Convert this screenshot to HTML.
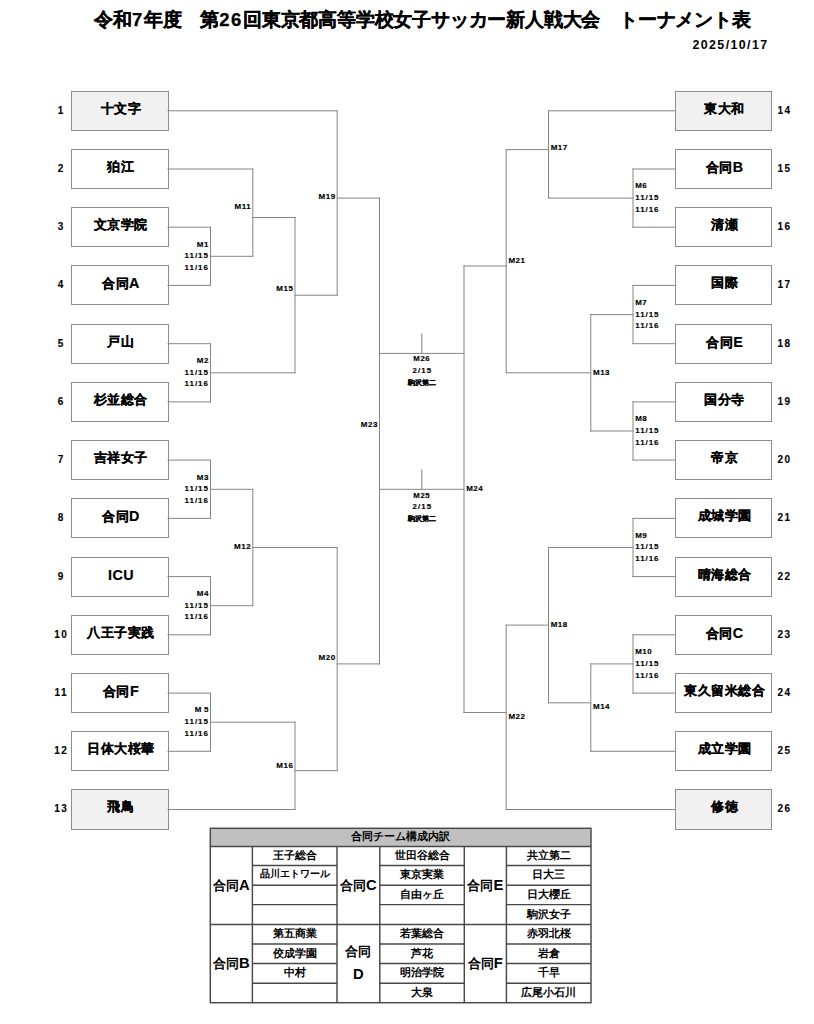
<!DOCTYPE html>
<html lang="ja"><head><meta charset="utf-8"><title>トーナメント表</title>
<style>
html,body{margin:0;padding:0;background:#fff;}
body{width:814px;height:1024px;position:relative;overflow:hidden;font-family:"Liberation Sans",sans-serif;color:#000;}
.a{position:absolute;white-space:nowrap;}
.t{position:absolute;left:1px;top:6.5px;width:843px;text-align:center;font-size:18.55px;font-weight:bold;letter-spacing:-0.2px;-webkit-text-stroke:0.25px #000;}
.tn{letter-spacing:1.6px;}
.d{position:absolute;right:45.5px;top:38px;font-size:12.4px;font-weight:bold;letter-spacing:1.4px;}
.bx{position:absolute;box-sizing:border-box;border:1.4px solid #8d8d8d;background:#fff;font-size:13px;font-weight:bold;text-align:center;-webkit-text-stroke:0.2px #000;letter-spacing:0.5px;padding-left:2.5px;}
.bx.s{background:#f1f1f1;}
.la{font-size:14.3px;}
.n{position:absolute;font-size:10px;font-weight:bold;letter-spacing:1.5px;-webkit-text-stroke:0.1px #000;}
.m{position:absolute;font-size:8px;font-weight:bold;line-height:11.7px;letter-spacing:0.5px;-webkit-text-stroke:0.15px #000;}
.m.r{text-align:right;}
.dt{letter-spacing:0.95px;}

.c{position:absolute;font-size:7.8px;font-weight:bold;line-height:11.8px;text-align:center;letter-spacing:0.6px;-webkit-text-stroke:0.15px #000;}
table.g{position:absolute;border-collapse:collapse;border-spacing:0;table-layout:fixed;}
table.g td{border:0;padding:0 0 2px 0;font-size:11.4px;font-weight:bold;text-align:center;line-height:14px;white-space:nowrap;overflow:hidden;}
table.g tr.h td{font-size:11px;}
table.g td.gl{font-size:13.2px;line-height:22px;padding:0;}
table.g td.sm{font-size:10.2px;letter-spacing:0;}
.lt{font-size:14.8px;}
</style></head><body>
<div class="t">令和<span class="tn">7</span>年度　第<span class="tn">26</span>回東京都高等学校女子サッカー新人戦大会　トーナメント表</div>
<div class="d">2025/10/17</div>
<div class="bx s" style="left:70.8px;top:90.6px;width:97.9px;height:40.2px;line-height:34.4px">十文字</div>
<div class="n" style="left:40px;width:41px;padding-left:1.5px;box-sizing:border-box;text-align:center;top:104.7px;line-height:12px">1</div>
<div class="bx" style="left:70.8px;top:148.9px;width:97.9px;height:40.2px;line-height:34.4px">狛江</div>
<div class="n" style="left:40px;width:41px;padding-left:1.5px;box-sizing:border-box;text-align:center;top:162.9px;line-height:12px">2</div>
<div class="bx" style="left:70.8px;top:207.1px;width:97.9px;height:40.2px;line-height:34.4px">文京学院</div>
<div class="n" style="left:40px;width:41px;padding-left:1.5px;box-sizing:border-box;text-align:center;top:221.1px;line-height:12px">3</div>
<div class="bx" style="left:70.8px;top:265.3px;width:97.9px;height:40.2px;line-height:34.4px">合同<span class="la">A</span></div>
<div class="n" style="left:40px;width:41px;padding-left:1.5px;box-sizing:border-box;text-align:center;top:279.3px;line-height:12px">4</div>
<div class="bx" style="left:70.8px;top:323.6px;width:97.9px;height:40.2px;line-height:34.4px">戸山</div>
<div class="n" style="left:40px;width:41px;padding-left:1.5px;box-sizing:border-box;text-align:center;top:337.6px;line-height:12px">5</div>
<div class="bx" style="left:70.8px;top:381.8px;width:97.9px;height:40.2px;line-height:34.4px">杉並総合</div>
<div class="n" style="left:40px;width:41px;padding-left:1.5px;box-sizing:border-box;text-align:center;top:395.8px;line-height:12px">6</div>
<div class="bx" style="left:70.8px;top:440.0px;width:97.9px;height:40.2px;line-height:34.4px">吉祥女子</div>
<div class="n" style="left:40px;width:41px;padding-left:1.5px;box-sizing:border-box;text-align:center;top:454.0px;line-height:12px">7</div>
<div class="bx" style="left:70.8px;top:498.3px;width:97.9px;height:40.2px;line-height:34.4px">合同<span class="la">D</span></div>
<div class="n" style="left:40px;width:41px;padding-left:1.5px;box-sizing:border-box;text-align:center;top:512.3px;line-height:12px">8</div>
<div class="bx" style="left:70.8px;top:556.5px;width:97.9px;height:40.2px;line-height:34.4px"><span class="la">ICU</span></div>
<div class="n" style="left:40px;width:41px;padding-left:1.5px;box-sizing:border-box;text-align:center;top:570.5px;line-height:12px">9</div>
<div class="bx" style="left:70.8px;top:614.7px;width:97.9px;height:40.2px;line-height:34.4px">八王子実践</div>
<div class="n" style="left:40px;width:41px;padding-left:1.5px;box-sizing:border-box;text-align:center;top:628.7px;line-height:12px">10</div>
<div class="bx" style="left:70.8px;top:672.9px;width:97.9px;height:40.2px;line-height:34.4px">合同<span class="la">F</span></div>
<div class="n" style="left:40px;width:41px;padding-left:1.5px;box-sizing:border-box;text-align:center;top:687.0px;line-height:12px">11</div>
<div class="bx" style="left:70.8px;top:731.2px;width:97.9px;height:40.2px;line-height:34.4px">日体大桜華</div>
<div class="n" style="left:40px;width:41px;padding-left:1.5px;box-sizing:border-box;text-align:center;top:745.2px;line-height:12px">12</div>
<div class="bx s" style="left:70.8px;top:789.4px;width:97.9px;height:40.2px;line-height:34.4px">飛鳥</div>
<div class="n" style="left:40px;width:41px;padding-left:1.5px;box-sizing:border-box;text-align:center;top:803.4px;line-height:12px">13</div>
<div class="bx s" style="left:674.8px;top:90.6px;width:97.4px;height:40.2px;line-height:34.4px">東大和</div>
<div class="n" style="left:777.5px;top:104.7px;line-height:12px">14</div>
<div class="bx" style="left:674.8px;top:148.9px;width:97.4px;height:40.2px;line-height:34.4px">合同<span class="la">B</span></div>
<div class="n" style="left:777.5px;top:162.9px;line-height:12px">15</div>
<div class="bx" style="left:674.8px;top:207.1px;width:97.4px;height:40.2px;line-height:34.4px">清瀬</div>
<div class="n" style="left:777.5px;top:221.1px;line-height:12px">16</div>
<div class="bx" style="left:674.8px;top:265.3px;width:97.4px;height:40.2px;line-height:34.4px">国際</div>
<div class="n" style="left:777.5px;top:279.3px;line-height:12px">17</div>
<div class="bx" style="left:674.8px;top:323.6px;width:97.4px;height:40.2px;line-height:34.4px">合同<span class="la">E</span></div>
<div class="n" style="left:777.5px;top:337.6px;line-height:12px">18</div>
<div class="bx" style="left:674.8px;top:381.8px;width:97.4px;height:40.2px;line-height:34.4px">国分寺</div>
<div class="n" style="left:777.5px;top:395.8px;line-height:12px">19</div>
<div class="bx" style="left:674.8px;top:440.0px;width:97.4px;height:40.2px;line-height:34.4px">帝京</div>
<div class="n" style="left:777.5px;top:454.0px;line-height:12px">20</div>
<div class="bx" style="left:674.8px;top:498.3px;width:97.4px;height:40.2px;line-height:34.4px">成城学園</div>
<div class="n" style="left:777.5px;top:512.3px;line-height:12px">21</div>
<div class="bx" style="left:674.8px;top:556.5px;width:97.4px;height:40.2px;line-height:34.4px">晴海総合</div>
<div class="n" style="left:777.5px;top:570.5px;line-height:12px">22</div>
<div class="bx" style="left:674.8px;top:614.7px;width:97.4px;height:40.2px;line-height:34.4px">合同<span class="la">C</span></div>
<div class="n" style="left:777.5px;top:628.7px;line-height:12px">23</div>
<div class="bx" style="left:674.8px;top:672.9px;width:97.4px;height:40.2px;line-height:34.4px">東久留米総合</div>
<div class="n" style="left:777.5px;top:687.0px;line-height:12px">24</div>
<div class="bx" style="left:674.8px;top:731.2px;width:97.4px;height:40.2px;line-height:34.4px">成立学園</div>
<div class="n" style="left:777.5px;top:745.2px;line-height:12px">25</div>
<div class="bx s" style="left:674.8px;top:789.4px;width:97.4px;height:40.2px;line-height:34.4px">修徳</div>
<div class="n" style="left:777.5px;top:803.4px;line-height:12px">26</div>
<svg class="a" style="left:0;top:0" width="814" height="1024" viewBox="0 0 814 1024">
<g stroke="#858585" stroke-width="1" fill="none" stroke-linecap="square">
<line x1="168.0" y1="110.8" x2="337.2" y2="110.8"/>
<line x1="168.0" y1="169.0" x2="252.8" y2="169.0"/>
<line x1="168.0" y1="227.2" x2="210.5" y2="227.2"/>
<line x1="168.0" y1="285.4" x2="210.5" y2="285.4"/>
<line x1="168.0" y1="343.7" x2="210.5" y2="343.7"/>
<line x1="168.0" y1="401.9" x2="210.5" y2="401.9"/>
<line x1="168.0" y1="460.1" x2="210.5" y2="460.1"/>
<line x1="168.0" y1="518.4" x2="210.5" y2="518.4"/>
<line x1="168.0" y1="576.6" x2="210.5" y2="576.6"/>
<line x1="168.0" y1="634.8" x2="210.5" y2="634.8"/>
<line x1="168.0" y1="693.1" x2="210.5" y2="693.1"/>
<line x1="168.0" y1="751.3" x2="210.5" y2="751.3"/>
<line x1="168.0" y1="809.5" x2="295.0" y2="809.5"/>
<line x1="210.5" y1="227.2" x2="210.5" y2="285.4"/>
<line x1="210.5" y1="256.3" x2="252.8" y2="256.3"/>
<line x1="252.8" y1="169.0" x2="252.8" y2="256.3"/>
<line x1="252.8" y1="217.5" x2="295.0" y2="217.5"/>
<line x1="210.5" y1="343.7" x2="210.5" y2="401.9"/>
<line x1="210.5" y1="372.8" x2="295.0" y2="372.8"/>
<line x1="295.0" y1="217.5" x2="295.0" y2="372.8"/>
<line x1="295.0" y1="295.2" x2="337.2" y2="295.2"/>
<line x1="337.2" y1="110.8" x2="337.2" y2="295.2"/>
<line x1="337.2" y1="198.1" x2="379.5" y2="198.1"/>
<line x1="210.5" y1="460.1" x2="210.5" y2="518.4"/>
<line x1="210.5" y1="489.3" x2="252.8" y2="489.3"/>
<line x1="210.5" y1="576.6" x2="210.5" y2="634.8"/>
<line x1="210.5" y1="605.7" x2="252.8" y2="605.7"/>
<line x1="252.8" y1="489.3" x2="252.8" y2="605.7"/>
<line x1="252.8" y1="547.5" x2="337.2" y2="547.5"/>
<line x1="210.5" y1="693.1" x2="210.5" y2="751.3"/>
<line x1="210.5" y1="722.2" x2="295.0" y2="722.2"/>
<line x1="295.0" y1="722.2" x2="295.0" y2="809.5"/>
<line x1="295.0" y1="770.7" x2="337.2" y2="770.7"/>
<line x1="337.2" y1="547.5" x2="337.2" y2="770.7"/>
<line x1="337.2" y1="663.9" x2="379.5" y2="663.9"/>
<line x1="379.5" y1="198.1" x2="379.5" y2="663.9"/>
<line x1="548.5" y1="110.8" x2="675.5" y2="110.8"/>
<line x1="633.0" y1="169.0" x2="675.5" y2="169.0"/>
<line x1="633.0" y1="227.2" x2="675.5" y2="227.2"/>
<line x1="633.0" y1="285.4" x2="675.5" y2="285.4"/>
<line x1="633.0" y1="343.7" x2="675.5" y2="343.7"/>
<line x1="633.0" y1="401.9" x2="675.5" y2="401.9"/>
<line x1="633.0" y1="460.1" x2="675.5" y2="460.1"/>
<line x1="633.0" y1="518.4" x2="675.5" y2="518.4"/>
<line x1="633.0" y1="576.6" x2="675.5" y2="576.6"/>
<line x1="633.0" y1="634.8" x2="675.5" y2="634.8"/>
<line x1="633.0" y1="693.1" x2="675.5" y2="693.1"/>
<line x1="590.8" y1="751.3" x2="675.5" y2="751.3"/>
<line x1="506.2" y1="809.5" x2="675.5" y2="809.5"/>
<line x1="633.0" y1="169.0" x2="633.0" y2="227.2"/>
<line x1="548.5" y1="198.1" x2="633.0" y2="198.1"/>
<line x1="548.5" y1="110.8" x2="548.5" y2="198.1"/>
<line x1="506.2" y1="149.6" x2="548.5" y2="149.6"/>
<line x1="633.0" y1="285.4" x2="633.0" y2="343.7"/>
<line x1="590.8" y1="314.6" x2="633.0" y2="314.6"/>
<line x1="633.0" y1="401.9" x2="633.0" y2="460.1"/>
<line x1="590.8" y1="431.0" x2="633.0" y2="431.0"/>
<line x1="590.8" y1="314.6" x2="590.8" y2="431.0"/>
<line x1="506.2" y1="372.8" x2="590.8" y2="372.8"/>
<line x1="506.2" y1="149.6" x2="506.2" y2="372.8"/>
<line x1="464.0" y1="266.0" x2="506.2" y2="266.0"/>
<line x1="633.0" y1="518.4" x2="633.0" y2="576.6"/>
<line x1="548.5" y1="547.5" x2="633.0" y2="547.5"/>
<line x1="633.0" y1="634.8" x2="633.0" y2="693.1"/>
<line x1="590.8" y1="663.9" x2="633.0" y2="663.9"/>
<line x1="590.8" y1="663.9" x2="590.8" y2="751.3"/>
<line x1="548.5" y1="702.8" x2="590.8" y2="702.8"/>
<line x1="548.5" y1="547.5" x2="548.5" y2="702.8"/>
<line x1="506.2" y1="625.1" x2="548.5" y2="625.1"/>
<line x1="506.2" y1="625.1" x2="506.2" y2="809.5"/>
<line x1="464.0" y1="712.5" x2="506.2" y2="712.5"/>
<line x1="464.0" y1="266.0" x2="464.0" y2="712.5"/>
<line x1="379.5" y1="353.4" x2="464.0" y2="353.4"/>
<line x1="421.8" y1="334.0" x2="421.8" y2="353.4"/>
<line x1="379.5" y1="489.3" x2="464.0" y2="489.3"/>
<line x1="421.8" y1="469.8" x2="421.8" y2="489.3"/>
</g></svg>
<div class="m r" style="right:605.1px;top:238.6px">M1<br><span class="dt">11/15</span><br><span class="dt">11/16</span></div>
<div class="m r" style="right:605.1px;top:355.0px">M2<br><span class="dt">11/15</span><br><span class="dt">11/16</span></div>
<div class="m r" style="right:605.1px;top:471.5px">M3<br><span class="dt">11/15</span><br><span class="dt">11/16</span></div>
<div class="m r" style="right:605.1px;top:588.0px">M4<br><span class="dt">11/15</span><br><span class="dt">11/16</span></div>
<div class="m r" style="right:605.1px;top:704.4px">M 5<br><span class="dt">11/15</span><br><span class="dt">11/16</span></div>
<div class="m r" style="right:562.9px;top:200.6px">M11</div>
<div class="m r" style="right:478.4px;top:190.8px">M19</div>
<div class="m r" style="right:520.6px;top:282.8px">M15</div>
<div class="m r" style="right:436.1px;top:419.2px">M23</div>
<div class="m r" style="right:562.9px;top:540.9px">M12</div>
<div class="m r" style="right:478.4px;top:652.4px">M20</div>
<div class="m r" style="right:520.6px;top:759.8px">M16</div>
<div class="m" style="left:635.2px;top:180.4px">M6<br><span class="dt">11/15</span><br><span class="dt">11/16</span></div>
<div class="m" style="left:635.2px;top:296.8px">M7<br><span class="dt">11/15</span><br><span class="dt">11/16</span></div>
<div class="m" style="left:635.2px;top:413.3px">M8<br><span class="dt">11/15</span><br><span class="dt">11/16</span></div>
<div class="m" style="left:635.2px;top:529.7px">M9<br><span class="dt">11/15</span><br><span class="dt">11/16</span></div>
<div class="m" style="left:635.2px;top:646.2px">M10<br><span class="dt">11/15</span><br><span class="dt">11/16</span></div>
<div class="m" style="left:550.7px;top:142.3px">M17</div>
<div class="m" style="left:508.4px;top:255.2px">M21</div>
<div class="m" style="left:593.0px;top:366.5px">M13</div>
<div class="m" style="left:550.7px;top:619.1px">M18</div>
<div class="m" style="left:593.0px;top:700.9px">M14</div>
<div class="m" style="left:508.4px;top:711.1px">M22</div>
<div class="m" style="left:466.2px;top:483.3px">M24</div>
<div class="c" style="left:381.8px;width:80px;top:353.3px">M26<br><span style="letter-spacing:1.1px;margin-right:-1.1px">2/15</span><br><span style="font-size:7.4px;letter-spacing:0">駒沢第二</span></div>
<div class="c" style="left:381.8px;width:80px;top:489.5px">M25<br><span style="letter-spacing:1.1px;margin-right:-1.1px">2/15</span><br><span style="font-size:7.4px;letter-spacing:0">駒沢第二</span></div>
<svg class="a" style="left:0;top:0" width="814" height="1024"><g stroke="#484848" stroke-width="1.45" fill="none">
<rect x="210.3" y="828.3" width="380.7" height="18.2" fill="#c0c0c0" stroke="none"/>
<rect x="210.3" y="828.3" width="380.7" height="174.4"/>
<line x1="210.3" y1="846.5" x2="591.0" y2="846.5"/>
<line x1="210.3" y1="924.5" x2="591.0" y2="924.5"/>
<line x1="252.4" y1="846.5" x2="252.4" y2="1002.7"/>
<line x1="337.0" y1="846.5" x2="337.0" y2="1002.7"/>
<line x1="379.8" y1="846.5" x2="379.8" y2="1002.7"/>
<line x1="464.3" y1="846.5" x2="464.3" y2="1002.7"/>
<line x1="506.4" y1="846.5" x2="506.4" y2="1002.7"/>
<line x1="252.4" y1="865.5" x2="337.0" y2="865.5"/>
<line x1="252.4" y1="885.3" x2="337.0" y2="885.3"/>
<line x1="252.4" y1="904.6" x2="337.0" y2="904.6"/>
<line x1="252.4" y1="943.9" x2="337.0" y2="943.9"/>
<line x1="252.4" y1="963.4" x2="337.0" y2="963.4"/>
<line x1="252.4" y1="983.3" x2="337.0" y2="983.3"/>
<line x1="379.8" y1="865.5" x2="464.3" y2="865.5"/>
<line x1="379.8" y1="885.3" x2="464.3" y2="885.3"/>
<line x1="379.8" y1="904.6" x2="464.3" y2="904.6"/>
<line x1="379.8" y1="943.9" x2="464.3" y2="943.9"/>
<line x1="379.8" y1="963.4" x2="464.3" y2="963.4"/>
<line x1="379.8" y1="983.3" x2="464.3" y2="983.3"/>
<line x1="506.4" y1="865.5" x2="591.0" y2="865.5"/>
<line x1="506.4" y1="885.3" x2="591.0" y2="885.3"/>
<line x1="506.4" y1="904.6" x2="591.0" y2="904.6"/>
<line x1="506.4" y1="943.9" x2="591.0" y2="943.9"/>
<line x1="506.4" y1="963.4" x2="591.0" y2="963.4"/>
<line x1="506.4" y1="983.3" x2="591.0" y2="983.3"/>
</g></svg>
<table class="g" style="left:210.3px;top:828.3px;width:380.7px">
<colgroup><col style="width:42.1px"><col style="width:84.6px"><col style="width:42.8px"><col style="width:84.5px"><col style="width:42.1px"><col style="width:84.6px"></colgroup>
<tr class="h" style="height:18.2px"><td colspan="6">合同チーム構成内訳</td></tr>
<tr style="height:19.0px"><td rowspan=4 class=gl>合同<span class="lt">A</span></td><td>王子総合</td><td rowspan=4 class=gl>合同<span class="lt">C</span></td><td>世田谷総合</td><td rowspan=4 class=gl>合同<span class="lt">E</span></td><td>共立第二</td></tr>
<tr style="height:19.8px"><td class=sm>品川エトワール</td><td>東京実業</td><td>日大三</td></tr>
<tr style="height:19.3px"><td></td><td>自由ヶ丘</td><td>日大櫻丘</td></tr>
<tr style="height:19.9px"><td></td><td></td><td>駒沢女子</td></tr>
<tr style="height:19.4px"><td rowspan=4 class=gl>合同<span class="lt">B</span></td><td>第五商業</td><td rowspan=4 class=gl>合同<br><span class="lt">D</span></td><td>若葉総合</td><td rowspan=4 class=gl>合同<span class="lt">F</span></td><td>赤羽北桜</td></tr>
<tr style="height:19.5px"><td>佼成学園</td><td>芦花</td><td>岩倉</td></tr>
<tr style="height:19.9px"><td>中村</td><td>明治学院</td><td>千早</td></tr>
<tr style="height:19.4px"><td></td><td>大泉</td><td>広尾小石川</td></tr>
</table>
</body></html>
